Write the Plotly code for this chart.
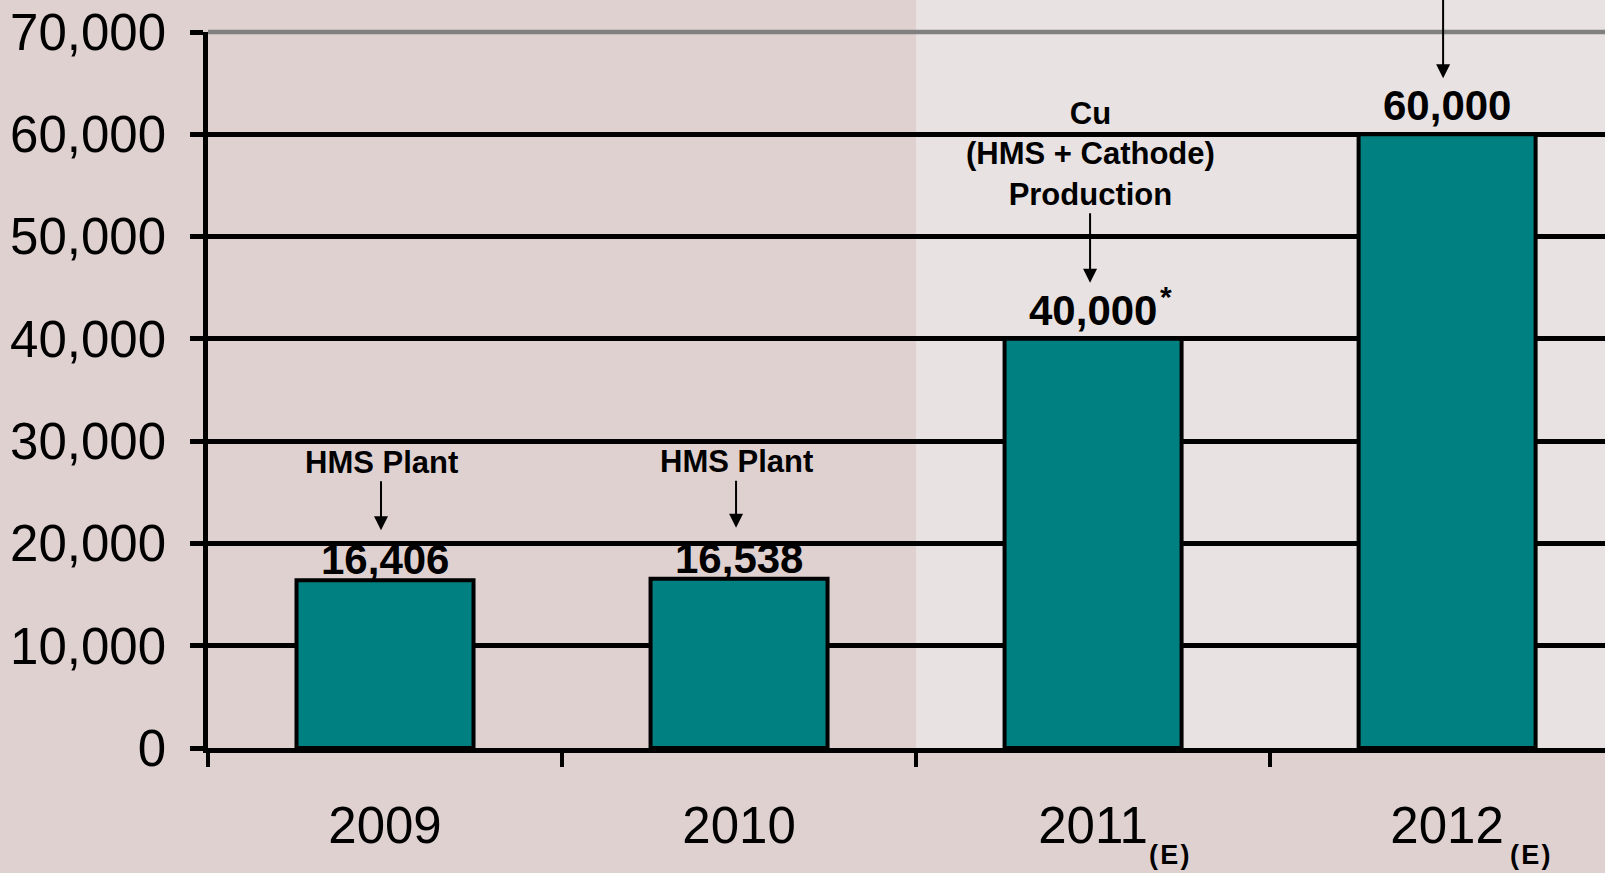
import plotly.graph_objects as go

# ---- data ----
years = ["2009", "2010", "2011", "2012"]
production = [16406, 16538, 40000, 60000]
is_estimate = [False, False, True, True]
notes = ["HMS Plant", "HMS Plant", "Cu<br>(HMS + Cathode)<br>Production", " "]
starred = [False, False, True, False]
y_tick_vals = [0, 10000, 20000, 30000, 40000, 50000, 60000, 70000]

# ---- style ----
TEAL = "#008080"
BG = "#e0d1d1"
PANEL = "#e8e2e2"
AXIS_FONT = "Liberation Sans, Arial, sans-serif"
BOLD_FONT = "Liberation Sans, Arial, sans-serif"
label_yshift = [-5, -5, 3, 3]
arrow_gap = [50, 51, 56, 56]
note_ay = [-68, -66, -129, -100]
note_xshift = [-4, -3, -3, -4]
estimate_xshift = [0, 0, 76, 83]

fig = go.Figure()
fig.add_trace(go.Bar(
    x=years, y=production, width=0.5,
    marker=dict(color=TEAL, line=dict(color="black", width=4)),
    hoverinfo="skip",
))

annotations = []
for i, v in enumerate(production):
    # category axis: annotations use the category's serial index
    annotations.append(dict(
        x=i, y=v, xref="x", yref="y", text=f"<b>{v:,}</b>", showarrow=False,
        yanchor="bottom", yshift=label_yshift[i],
        font=dict(family=BOLD_FONT, size=42, color="black"),
    ))
    annotations.append(dict(
        x=i, y=v, xref="x", yref="y", text=f"<b>{notes[i]}</b>",
        showarrow=True, ax=0, ay=note_ay[i],
        xshift=note_xshift[i], yshift=arrow_gap[i],
        arrowhead=2, arrowsize=1.4, arrowwidth=2, arrowcolor="black",
        font=dict(family=BOLD_FONT, size=31, color="black"),
    ))
    if starred[i]:
        annotations.append(dict(
            x=i, y=v, xref="x", yref="y", text="<b>*</b>", showarrow=False,
            xshift=73, yshift=42, font=dict(family=BOLD_FONT, size=30, color="black"),
        ))
    if is_estimate[i]:
        annotations.append(dict(
            x=i, y=0, xref="x", yref="paper", text="<b>(\u200aE\u200a)</b>", showarrow=False,
            xshift=estimate_xshift[i], yshift=-124,
            font=dict(family=BOLD_FONT, size=27, color="black"),
        ))

fig.update_layout(
    width=1605, height=873,
    margin=dict(l=208, r=0, t=32, b=125, pad=0),
    paper_bgcolor=BG,
    plot_bgcolor="rgba(0,0,0,0)",
    showlegend=False,
    bargap=0.5,
    annotations=annotations,
    shapes=[
        dict(type="rect", xref="paper", yref="paper",
             x0=(916 - 208) / 1397, x1=1.01, y0=0, y1=1.06,
             fillcolor=PANEL, line=dict(width=0), layer="below"),
        dict(type="line", xref="paper", yref="paper", x0=0, x1=1, y0=1, y1=1,
             line=dict(color="#808080", width=4.5), layer="above"),
    ],
    xaxis=dict(
        type="category", categoryorder="array", categoryarray=years,
        range=[-0.5, 3.446], automargin=False,
        showline=True, linecolor="black", linewidth=5,
        ticks="outside", tickson="boundaries", ticklen=14, tickwidth=4, tickcolor="black",
        ticklabelstandoff=29,
        tickfont=dict(family=AXIS_FONT, size=51, color="black"),
        showgrid=False, zeroline=False, fixedrange=True,
    ),
    yaxis=dict(
        range=[0, 70000], tickvals=y_tick_vals, tickformat=",", automargin=False,
        showline=True, linecolor="black", linewidth=4.5,
        ticks="outside", ticklen=13, tickwidth=4.5, tickcolor="black",
        ticklabelstandoff=14,
        showgrid=True, gridcolor="black", gridwidth=4.5, zeroline=False,
        tickfont=dict(family=AXIS_FONT, size=51, color="black"),
        fixedrange=True,
    ),
)

fig.write_html("out.html", config={"displayModeBar": False},
               post_script="document.body.style.margin='0px';")
